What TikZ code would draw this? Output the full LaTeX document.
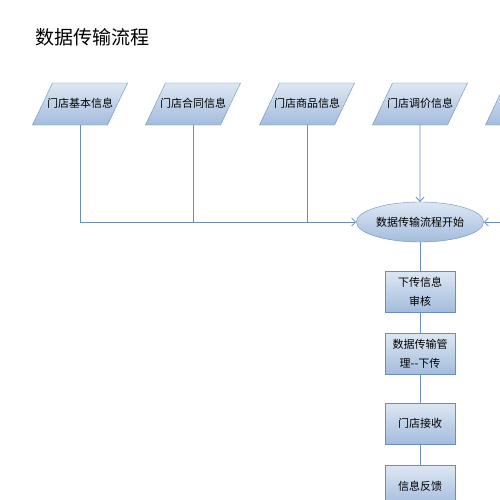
\documentclass[tikz,border=0pt]{standalone}
\usepackage{fontspec}
\setmainfont{Noto Sans CJK SC}
\usetikzlibrary{shapes.geometric,arrows.meta}
\definecolor{liuline}{HTML}{6A8DC0}
\definecolor{liutop}{HTML}{DDE7F3}
\definecolor{liubot}{HTML}{A3BCDD}
\begin{document}
\begin{tikzpicture}[x=1pt,y=-1pt,
	shuju/.style={trapezium, trapezium left angle=64.5, trapezium right angle=115.5, trapezium stretches body=true,
		text height=10pt, text depth=2pt, inner xsep=-5.5pt, inner ysep=15pt,
		draw=liuline, top color=liutop, bottom color=liubot, font=\fontsize{11}{13}\selectfont},
	buzhou/.style={rectangle, minimum width=70pt, minimum height=41pt, inner sep=1pt, align=center,
		draw=liuline, top color=liutop, bottom color=liubot, font=\fontsize{11}{19}\selectfont},
	lianxian/.style={draw=liuline, line width=0.8pt},
	jiantou/.style={lianxian, -{Straight Barb[length=4pt,width=8pt]}}]
	\useasboundingbox (0,0) rectangle (500,500);
	\clip (0,0) rectangle (500,500);
	\node[anchor=west, font=\fontsize{19}{21}\selectfont] (biaoti) at (32,37) {数据传输流程};
	% input data
	\node[shuju] (jiben) at (80,104) {门店基本信息};
	\node[shuju] (hetong) at (193,104) {门店合同信息};
	\node[shuju] (shangpin) at (307,104) {门店商品信息};
	\node[shuju] (tiaojia) at (420,104) {门店调价信息};
	\node[shuju] (qita) at (533,104) {\phantom{门店其他信息}};
	\node[ellipse, minimum width=126pt, minimum height=40pt, inner sep=1pt, draw=liuline, top color=liutop,
		bottom color=liubot, font=\fontsize{11}{13}\selectfont] (kaishi) at (420,222) {数据传输流程开始};
	% steps
	\node[buzhou] (shenhe) at (420,291.5) {下传信息\\审核};
	\node[buzhou] (xiachuan) at (420,354) {数据传输管\\理-{}-下传};
	\node[buzhou] (jieshou) at (420,423.5) {门店接收};
	\node[buzhou] (fankui) at (420,486) {信息反馈};
	\draw[jiantou] (jiben.south) |- (kaishi.west);
	\draw[lianxian] (hetong.south) -- (hetong.south |- kaishi.west);
	\draw[lianxian] (shangpin.south) -- (shangpin.south |- kaishi.west);
	\draw[jiantou] (tiaojia.south) -- (kaishi.north);
	\draw[jiantou] (qita.south) |- (kaishi.east);
	\draw[lianxian] (kaishi.south) -- (shenhe.north);
	\draw[lianxian] (shenhe.south) -- (xiachuan.north);
	\draw[lianxian] (xiachuan.south) -- (jieshou.north);
	\draw[lianxian] (jieshou.south) -- (fankui.north);
\end{tikzpicture}
\end{document}
